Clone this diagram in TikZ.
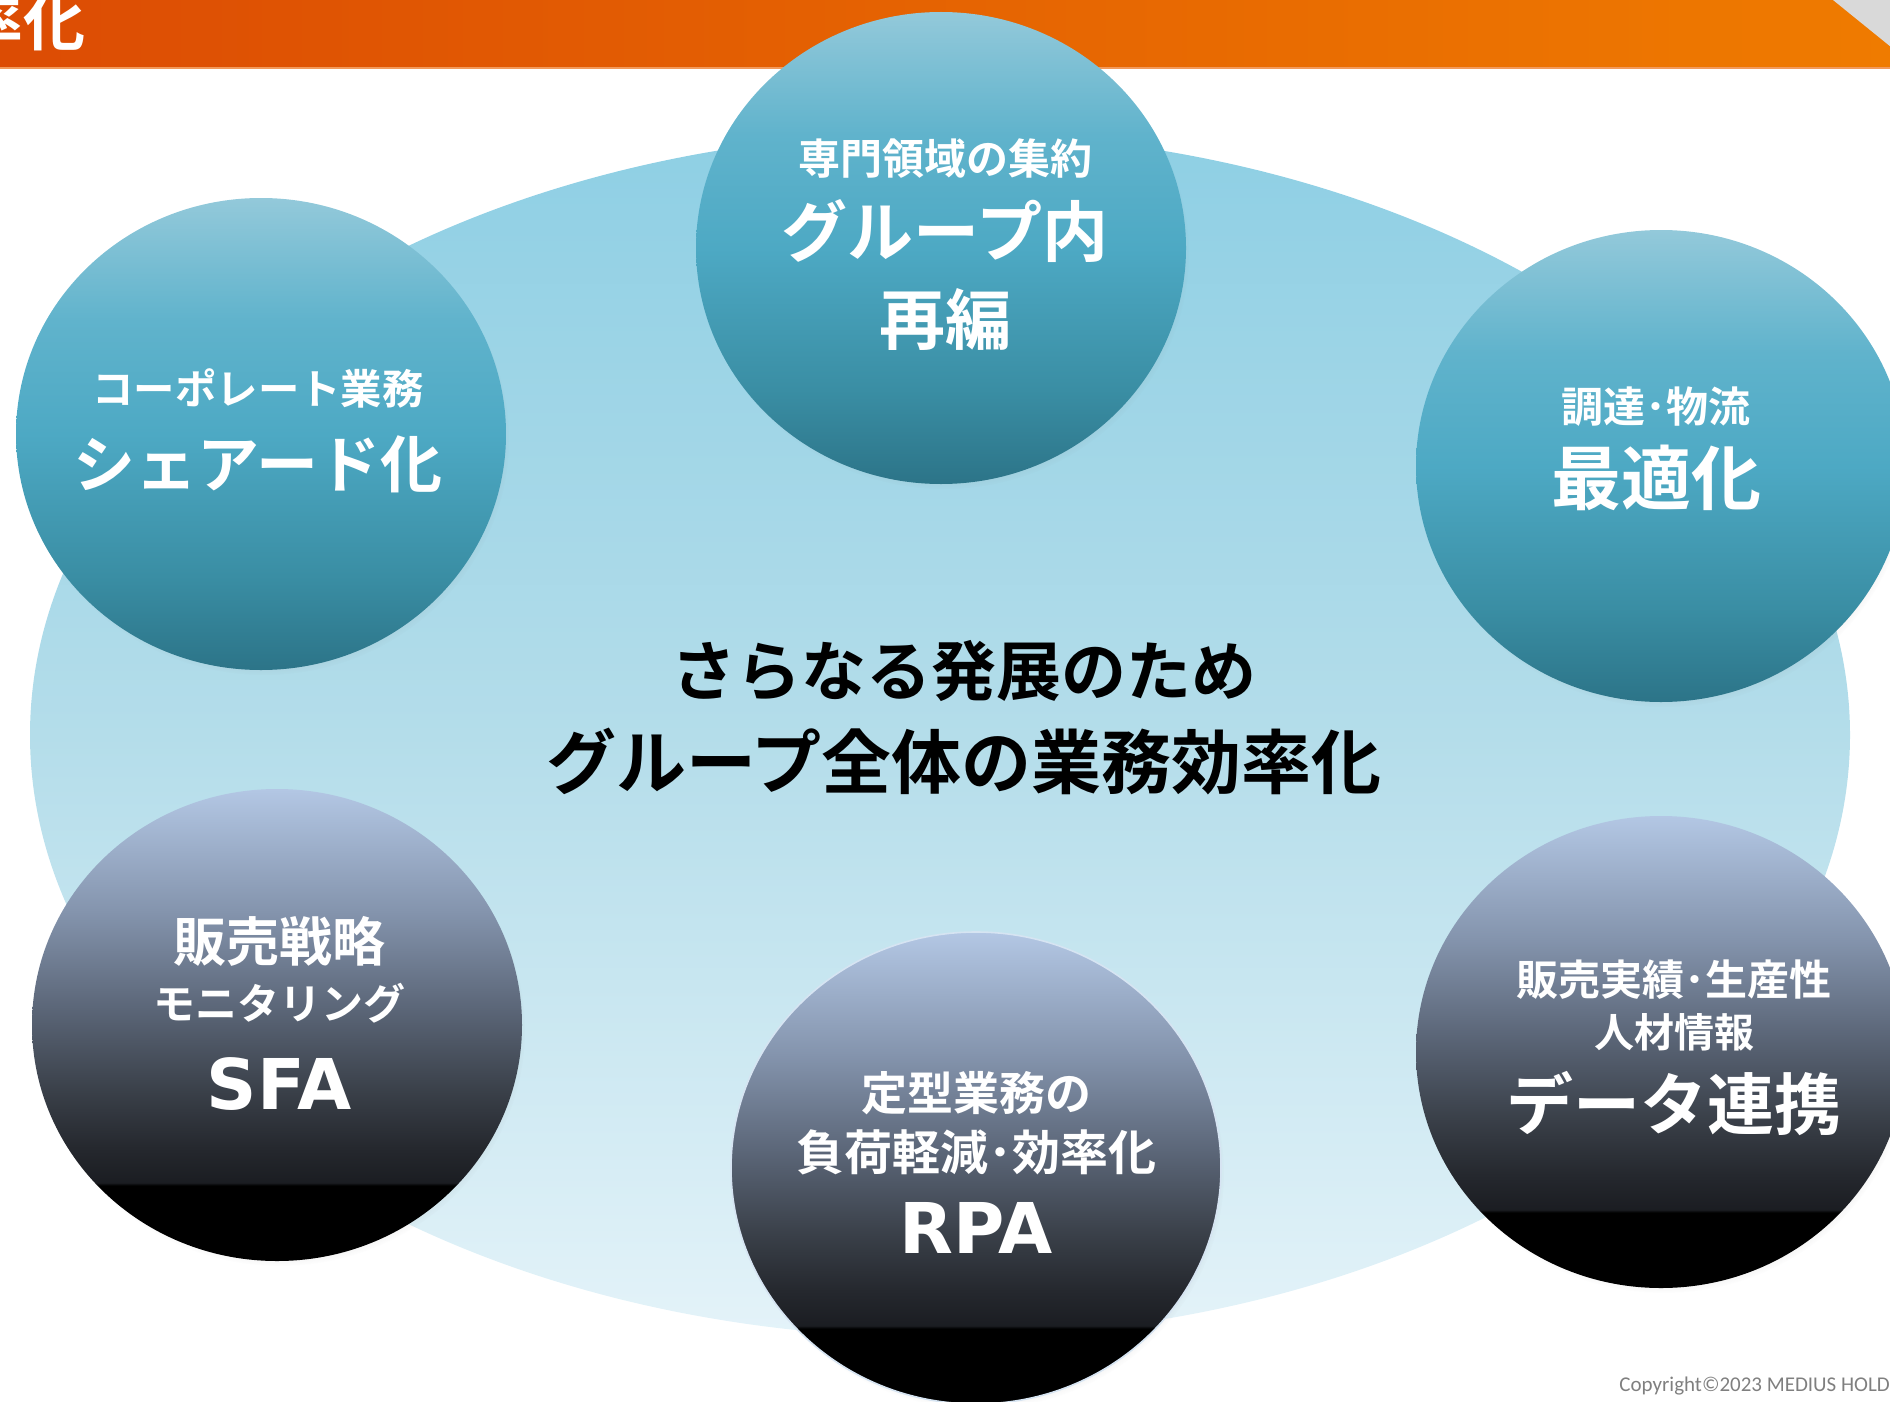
\documentclass[tikz,border=0pt]{standalone}
\usepackage{fontspec}
\setmainfont{Noto Sans CJK JP}[UprightFont=* Bold]
\newfontfamily\latb{DejaVu Sans}[UprightFont=* Bold]
\newfontfamily\cpfont{Carlito}
\usetikzlibrary{shapes.geometric,shadows}
\definecolor{hdrL}{HTML}{DC4C04}
\definecolor{hdrR}{HTML}{EF7B00}
\definecolor{hdrLine}{HTML}{F29A5C}
\definecolor{cornergray}{HTML}{D9D9D9}
\definecolor{bgT}{HTML}{8ECFE4}
\definecolor{bgM}{HTML}{B4DDEA}
\definecolor{bgB}{HTML}{E4F3F9}
\definecolor{tlT}{HTML}{93C9DA}
\definecolor{tlA}{HTML}{60B3CC}
\definecolor{tlM}{HTML}{4DA9C4}
\definecolor{tlC}{HTML}{3A8EA4}
\definecolor{tlB}{HTML}{2C7488}
\definecolor{dkT}{HTML}{B3C7E4}
\definecolor{dkA}{HTML}{8494AD}
\definecolor{dkM}{HTML}{5C6779}
\definecolor{dkC}{HTML}{3A4049}
\definecolor{dkD}{HTML}{25282E}
\definecolor{dkE}{HTML}{1B1D22}
\definecolor{copygray}{HTML}{7F7F7F}
\definecolor{rimcol}{HTML}{D6E4F2}
\pgfdeclarehorizontalshading{hdrsh}{100bp}{color(0bp)=(hdrL); color(25bp)=(hdrL); color(75bp)=(hdrR); color(100bp)=(hdrR)}
\pgfdeclareverticalshading{bgsh}{100bp}{color(0bp)=(bgB); color(25bp)=(bgB); color(50bp)=(bgM); color(75bp)=(bgT); color(100bp)=(bgT)}
\pgfdeclareverticalshading{tealsh}{100bp}{color(0bp)=(tlB); color(25bp)=(tlB); color(35bp)=(tlC); color(50bp)=(tlM); color(62bp)=(tlA); color(75bp)=(tlT); color(100bp)=(tlT)}
\pgfdeclareverticalshading{darksh}{100bp}{color(0bp)=(black); color(25bp)=(black); color(33bp)=(black); color(33.3bp)=(dkE); color(37bp)=(dkD); color(43bp)=(dkC); color(52bp)=(dkM); color(62bp)=(dkA); color(75bp)=(dkT); color(100bp)=(dkT)}
\tikzset{
  bubble/.style={ellipse, inner sep=0pt, minimum width=245pt, minimum height=236pt,
    circular drop shadow={shadow xshift=1.5pt, shadow yshift=-2.5pt, opacity=0.35, shadow scale=1.0}},
  tealbub/.style={bubble, shading=tealsh},
  darkbub/.style={bubble, shading=darksh},
  wtxt/.style={text=white, inner sep=0pt, align=center},
  btxt/.style={text=black, inner sep=0pt, align=center},
}
\newcommand{\fs}[1]{\fontsize{#1}{#1}\selectfont}
\begin{document}
\begin{tikzpicture}[x=0.5pt,y=-0.5pt]
\useasboundingbox (0,0) rectangle (1890,1402);
\clip (0,0) rectangle (1890,1402);
% header
\shade[shading=hdrsh] (0,0) rectangle (1890,68);
\draw[hdrLine, line width=0.6pt] (0,68) -- (1890,68);
\fill[cornergray] (1833,0) -- (1891,0) -- (1891,47) -- cycle;
\node[wtxt, anchor=east, font=\fs{31}] (title) at (86,22) {率化};
% base ellipse
\node[ellipse, inner sep=0pt, minimum width=910pt, minimum height=602.5pt, shading=bgsh] (base) at (940,735) {};
% central text
\node[btxt, font=\fs{32.5}] (c1) at (964,671) {さらなる発展のため};
\node[btxt, font=\fs{35}] (c2) at (964,762) {グループ全体の業務効率化};
% teal bubbles
\node[tealbub] (b1) at (941,248) {};
\node[wtxt, font=\fs{21}] (b1a) at (945,159) {専門領域の集約};
\node[wtxt, font=\fs{33}] (b1b) at (945,231) {グループ内};
\node[wtxt, font=\fs{33}] (b1c) at (945,319) {再編};
\node[tealbub] (b2) at (261,434) {};
\node[wtxt, font=\fs{20.7}] (b2a) at (258,388) {コーポレート業務};
\node[wtxt, font=\fs{31}] (b2b) at (258,464) {シェアード化};
\node[tealbub] (b3) at (1661,466) {};
\node[wtxt, font=\fs{21}] (b3a) at (1656,407) {調達･物流};
\node[wtxt, font=\fs{35}] (b3b) at (1656,478) {最適化};
% dark bubbles
\node[darkbub] (b4) at (277,1025) {};
\node[wtxt, font=\fs{26.5}] (b4a) at (279,941) {販売戦略};
\node[wtxt, font=\fs{21}] (b4b) at (279,1003) {モニタリング};
\node[wtxt, font=\latb\fs{35}] (b4c) at (279,1084) {SFA};
\node[darkbub, draw=rimcol, line width=0.8pt] (b5) at (976,1168) {};
\node[wtxt, font=\fs{23}] (b5a) at (976,1093) {定型業務の};
\node[wtxt, font=\fs{24}] (b5b) at (976,1152) {負荷軽減･効率化};
\node[wtxt, font=\latb\fs{35}] (b5c) at (976,1228) {RPA};
\node[darkbub] (b6) at (1661,1052) {};
\node[wtxt, font=\fs{21}] (b6a) at (1674,980) {販売実績･生産性};
\node[wtxt, font=\fs{20}] (b6b) at (1674,1032) {人材情報};
\node[wtxt, font=\fs{33.5}] (b6c) at (1674,1103) {データ連携};
% copyright
\node[anchor=west, inner sep=0pt, text=copygray, font=\cpfont\fs{10.5}] (copy) at (1619,1386) {Copyright©2023 MEDIUS HOLD};
\end{tikzpicture}
\end{document}
